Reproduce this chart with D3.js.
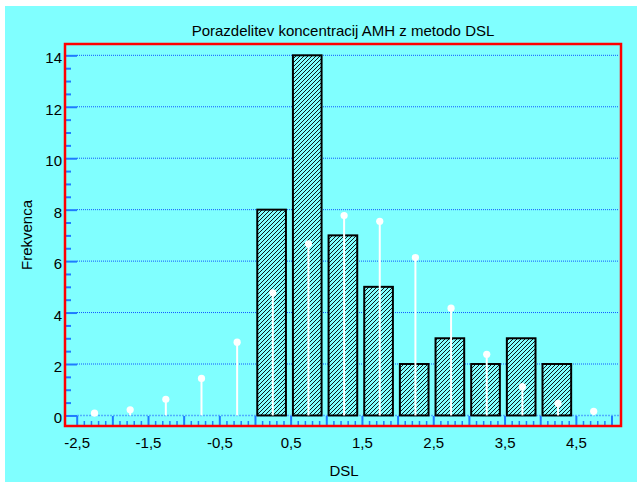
<!DOCTYPE html>
<html>
<head>
<meta charset="utf-8">
<script src="https://cdn.jsdelivr.net/npm/d3@7"></script>
<style>
  body { margin: 0; background: #fff; }
  svg { display: block; font-family: Arial, "Liberation Sans", sans-serif; }
</style>
</head>
<body>
<svg width="637" height="482"></svg>
<script>
// histogram bins (start of each 0.5 wide bin) and counts
var binStarts = [0, 0.5, 1, 1.5, 2, 2.5, 3, 3.5, 4];
var counts = [8, 14, 7, 5, 2, 3, 2, 3, 2];
var binWidth = 0.5;

// expected (normal) frequencies at bin centres
var expCentres = [-2.25, -1.75, -1.25, -0.75, -0.25, 0.25, 0.75, 1.25, 1.75, 2.25, 2.75, 3.25, 3.75, 4.25, 4.75];
var expValues = [0.09, 0.22, 0.63, 1.44, 2.85, 4.77, 6.67, 7.77, 7.55, 6.14, 4.17, 2.38, 1.12, 0.47, 0.16];

var xMajor = [-2.5, -2, -1.5, -1, -0.5, 0, 0.5, 1, 1.5, 2, 2.5, 3, 3.5, 4, 4.5, 5];
var xLabels = [-2.5, -1.5, -0.5, 0.5, 1.5, 2.5, 3.5, 4.5];
var yMajor = [0, 2, 4, 6, 8, 10, 12, 14];

var svg = d3.select("svg"),
    plotLeft = 65, plotRight = 621, plotTop = 44, plotBottom = 426;

var cyan = "#80ffff", blue = "#1e7bff";

svg.append("rect").attr("x", 5).attr("y", 6).attr("width", 632).attr("height", 476).attr("fill", cyan);

var x = d3.scaleLinear().domain([-2.664, 5.133]).range([plotLeft, plotRight]);
var y = d3.scaleLinear().domain([-0.41, 14.44]).range([plotBottom, plotTop]);

var defs = svg.append("defs");
var pat = defs.append("pattern")
    .attr("id", "hatch")
    .attr("patternUnits", "userSpaceOnUse")
    .attr("width", 4).attr("height", 4);
pat.append("rect").attr("width", 4).attr("height", 4).attr("fill", cyan);
pat.append("path")
    .attr("d", "M-1,1 l2,-2 M0,4 l4,-4 M3,5 l2,-2")
    .attr("stroke", "#000").attr("stroke-width", 0.9);

// grid lines
svg.append("g").selectAll("line")
    .data(yMajor.filter(function(d) { return d > 0; }))
    .join("line")
    .attr("x1", plotLeft + 12).attr("x2", plotRight - 2)
    .attr("y1", function(d) { return y(d); })
    .attr("y2", function(d) { return y(d); })
    .attr("stroke", "#1058ff").attr("stroke-width", 1)
    .attr("stroke-dasharray", "1,1");
svg.append("line")
    .attr("x1", plotLeft + 12).attr("x2", plotRight - 2)
    .attr("y1", y(0)).attr("y2", y(0))
    .attr("stroke", "#4fb0ff").attr("stroke-width", 1.5)
    .attr("stroke-dasharray", "2,1");

// bars
var padL = 2.3, padR = 4.7;
svg.append("g").selectAll("rect")
    .data(binStarts)
    .join("rect")
    .attr("x", function(d) { return x(d) + padL; })
    .attr("width", function(d) { return x(d + binWidth) - x(d) - padL - padR; })
    .attr("y", function(d, i) { return y(counts[i]); })
    .attr("height", function(d, i) { return y(0) - y(counts[i]); })
    .attr("fill", "url(#hatch)")
    .attr("stroke", "#000").attr("stroke-width", 2);

// expected frequencies
var pins = svg.append("g");
pins.selectAll("line")
    .data(expCentres)
    .join("line")
    .attr("x1", function(d) { return x(d); })
    .attr("x2", function(d) { return x(d); })
    .attr("y1", y(0))
    .attr("y2", function(d, i) { return y(expValues[i]); })
    .attr("stroke", "#fff").attr("stroke-width", 2);
pins.selectAll("circle")
    .data(expCentres)
    .join("circle")
    .attr("cx", function(d) { return x(d); })
    .attr("cy", function(d, i) { return y(expValues[i]); })
    .attr("r", 3.6)
    .attr("fill", "#fff");

function comma(d) { return String(d).replace(".", ","); }

// x axis
var xMinor = d3.range(-25, 51).map(function(i) { return i / 10; })
    .filter(function(d) { return Math.round(d * 10) % 5 !== 0; });
svg.append("g")
    .attr("transform", "translate(0," + plotBottom + ")")
    .call(d3.axisBottom(x).tickValues(xMinor).tickSize(-5).tickFormat(""))
    .call(function(g) { g.select(".domain").remove(); g.selectAll("line").attr("stroke", blue).attr("stroke-width", 1.5); });
svg.append("g")
    .attr("transform", "translate(0," + plotBottom + ")")
    .call(d3.axisBottom(x).tickValues(xMajor).tickSize(-10).tickPadding(11)
        .tickFormat(function(d) { return xLabels.indexOf(d) >= 0 ? comma(d) : ""; }))
    .call(function(g) {
        g.select(".domain").remove();
        g.selectAll("line").attr("stroke", blue).attr("stroke-width", 2);
        g.selectAll("text").attr("fill", "#000").attr("font-size", 15)
            .attr("font-family", "Arial, 'Liberation Sans', sans-serif");
    });

// y axis
var yMinor = d3.range(0, 29).map(function(i) { return i / 2; })
    .filter(function(d) { return d % 2 !== 0; });
svg.append("g")
    .attr("transform", "translate(" + plotLeft + ",0)")
    .call(d3.axisLeft(y).tickValues(yMinor).tickSize(-6).tickFormat(""))
    .call(function(g) { g.select(".domain").remove(); g.selectAll("line").attr("stroke", blue).attr("stroke-width", 2); });
svg.append("g")
    .attr("transform", "translate(" + plotLeft + ",0)")
    .call(d3.axisLeft(y).tickValues(yMajor).tickSize(-12).tickPadding(3))
    .call(function(g) {
        g.select(".domain").remove();
        g.selectAll("line").attr("stroke", blue).attr("stroke-width", 2);
        g.selectAll("text").attr("fill", "#000").attr("font-size", 15).attr("dy", "0.5em")
            .attr("font-family", "Arial, 'Liberation Sans', sans-serif");
    });

// frame
svg.append("rect")
    .attr("x", plotLeft).attr("y", plotTop)
    .attr("width", plotRight - plotLeft).attr("height", plotBottom - plotTop)
    .attr("fill", "none").attr("stroke", "#ff0000").attr("stroke-width", 2.5);

// texts
svg.append("text")
    .attr("x", (plotLeft + plotRight) / 2).attr("y", 36)
    .attr("text-anchor", "middle").attr("font-size", 15)
    .text("Porazdelitev koncentracij AMH z metodo DSL");
svg.append("text")
    .attr("x", 344).attr("y", 476)
    .attr("text-anchor", "middle").attr("font-size", 15)
    .text("DSL");
svg.append("text")
    .attr("transform", "translate(32,235) rotate(-90)")
    .attr("text-anchor", "middle").attr("font-size", 15)
    .text("Frekvenca");
</script>
</body>
</html>
